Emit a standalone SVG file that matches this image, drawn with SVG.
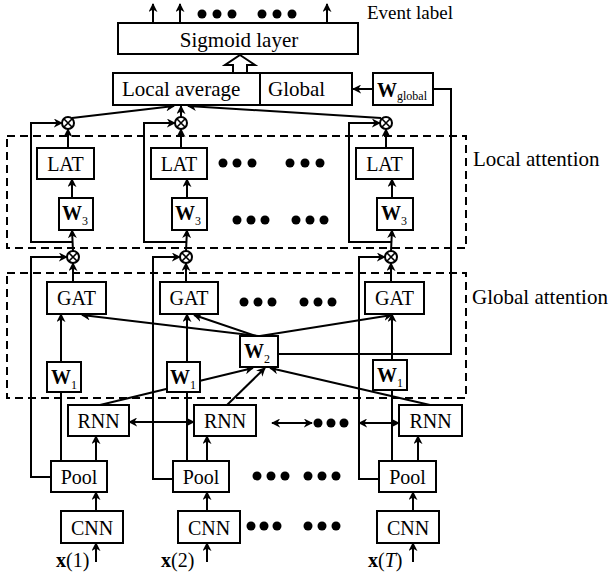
<svg xmlns="http://www.w3.org/2000/svg" width="609" height="575" viewBox="0 0 609 575">
<style>
.box{fill:#fff;stroke:#000;stroke-width:2}
.ln{fill:none;stroke:#000;stroke-width:2}
.ar{marker-end:url(#ah)}
.da{fill:none;stroke:#000;stroke-width:2;stroke-dasharray:8 5}
.dot{fill:#000}
text{font-family:"Liberation Serif","Times New Roman",serif;font-size:20px;fill:#000}
.c{text-anchor:middle}
.b{font-weight:bold}
.s{font-size:12px}
.L{font-size:21px}
.ot circle{fill:#fff;stroke:#000;stroke-width:2}
.ot path{stroke:#000;stroke-width:1.6}
</style>
<defs>
<marker id="ah" viewBox="0 0 10 10" refX="9" refY="5" markerWidth="9" markerHeight="9" markerUnits="userSpaceOnUse" orient="auto-start-reverse"><path d="M0,0 L10,5 L0,10 L3,5 z"/></marker>
<g id="otimes" class="ot"><circle r="6"/><path d="M-4.2,-4.2 L4.2,4.2 M-4.2,4.2 L4.2,-4.2"/></g>
</defs>

<g id="regions">
<rect class="da" x="7" y="136" width="459" height="112"/>
<rect class="da" x="7" y="273" width="459" height="125"/>
<text class="L" x="473" y="166">Local attention</text>
<text class="L" x="472" y="304">Global attention</text>
</g>

<g id="connectors">
<!-- outputs -->
<line class="ln ar" x1="153" y1="23" x2="153" y2="4"/>
<line class="ln ar" x1="180" y1="23" x2="180" y2="4"/>
<line class="ln ar" x1="327" y1="23" x2="327" y2="4"/>
<!-- into local average -->
<line class="ln ar" x1="72" y1="118" x2="174" y2="106"/>
<line class="ln ar" x1="181" y1="117" x2="181" y2="106"/>
<line class="ln ar" x1="381" y1="118" x2="188" y2="106"/>
<!-- W_global -->
<line class="ln ar" x1="373" y1="89" x2="353" y2="89"/>
<path class="ln" d="M278,354 H451 V89 H433"/>
<!-- column 1 local -->
<line class="ln ar" x1="68" y1="148" x2="68" y2="129"/>
<line class="ln ar" x1="72" y1="198" x2="72" y2="179"/>
<line class="ln ar" x1="73" y1="251" x2="72" y2="230"/>
<path class="ln ar" d="M72,242 H31 V123 H62"/>
<!-- column 2 local -->
<line class="ln ar" x1="181" y1="148" x2="181" y2="129"/>
<line class="ln ar" x1="187" y1="198" x2="187" y2="179"/>
<line class="ln ar" x1="186" y1="251" x2="187" y2="230"/>
<path class="ln ar" d="M187,242 H144 V123 H175"/>
<!-- column 3 local -->
<line class="ln ar" x1="386" y1="148" x2="386" y2="129"/>
<line class="ln ar" x1="392" y1="198" x2="392" y2="179"/>
<line class="ln ar" x1="391" y1="251" x2="392" y2="230"/>
<path class="ln ar" d="M392,242 H349 V123 H380"/>
<!-- column 1 global/bottom -->
<line class="ln ar" x1="73" y1="282" x2="73" y2="263"/>
<path class="ln ar" d="M51,477 H31 V257 H67"/>
<line class="ln ar" x1="61" y1="362" x2="61" y2="314"/>
<line class="ln" x1="61" y1="461" x2="61" y2="392"/>
<line class="ln ar" x1="96" y1="511" x2="96" y2="492"/>
<line class="ln ar" x1="96" y1="461" x2="96" y2="436"/>
<line class="ln ar" x1="96" y1="562" x2="96" y2="543"/>
<!-- column 2 global/bottom -->
<line class="ln ar" x1="186" y1="282" x2="186" y2="263"/>
<path class="ln ar" d="M173,479 H153 V257 H180"/>
<line class="ln ar" x1="187" y1="362" x2="187" y2="314"/>
<line class="ln" x1="187" y1="461" x2="187" y2="392"/>
<line class="ln ar" x1="207" y1="511" x2="207" y2="492"/>
<line class="ln ar" x1="207" y1="461" x2="207" y2="436"/>
<line class="ln ar" x1="207" y1="562" x2="207" y2="543"/>
<!-- column 3 global/bottom -->
<line class="ln ar" x1="391" y1="282" x2="391" y2="263"/>
<path class="ln ar" d="M379,479 H359 V257 H385"/>
<line class="ln ar" x1="392" y1="360" x2="392" y2="314"/>
<line class="ln" x1="392" y1="461" x2="392" y2="390"/>
<line class="ln ar" x1="413" y1="511" x2="413" y2="492"/>
<line class="ln ar" x1="418" y1="461" x2="418" y2="436"/>
<line class="ln ar" x1="413" y1="562" x2="413" y2="543"/>
<!-- W2 links -->
<line class="ln ar" x1="258" y1="336" x2="82" y2="315"/>
<line class="ln ar" x1="256" y1="336" x2="194" y2="315"/>
<line class="ln ar" x1="260" y1="336" x2="392" y2="315"/>
<line class="ln ar" x1="100" y1="405" x2="253" y2="368"/>
<line class="ln ar" x1="227" y1="405" x2="265" y2="368"/>
<line class="ln ar" x1="430" y1="405" x2="270" y2="368"/>
<!-- RNN recurrences -->
<line class="ln ar" x1="129" y1="422" x2="194" y2="422" style="marker-start:url(#ah)"/>
<line class="ln ar" x1="272" y1="423" x2="312" y2="423" style="marker-start:url(#ah)"/>
<line class="ln ar" x1="359" y1="423" x2="399" y2="423" style="marker-start:url(#ah)"/>
</g>

<g id="dots">
<circle class="dot" cx="202" cy="14" r="4.5"/><circle class="dot" cx="217" cy="14" r="4.5"/><circle class="dot" cx="232" cy="14" r="4.5"/>
<circle class="dot" cx="262" cy="14" r="4.5"/><circle class="dot" cx="277" cy="14" r="4.5"/><circle class="dot" cx="292" cy="14" r="4.5"/>
<circle class="dot" cx="223" cy="163" r="4.5"/><circle class="dot" cx="237" cy="163" r="4.5"/><circle class="dot" cx="252" cy="163" r="4.5"/>
<circle class="dot" cx="290" cy="163" r="4.5"/><circle class="dot" cx="305" cy="163" r="4.5"/><circle class="dot" cx="320" cy="163" r="4.5"/>
<circle class="dot" cx="237" cy="220" r="4.5"/><circle class="dot" cx="251" cy="220" r="4.5"/><circle class="dot" cx="265" cy="220" r="4.5"/>
<circle class="dot" cx="296" cy="220" r="4.5"/><circle class="dot" cx="310" cy="220" r="4.5"/><circle class="dot" cx="324" cy="220" r="4.5"/>
<circle class="dot" cx="244" cy="302" r="4.5"/><circle class="dot" cx="258" cy="302" r="4.5"/><circle class="dot" cx="272" cy="302" r="4.5"/>
<circle class="dot" cx="304" cy="302" r="4.5"/><circle class="dot" cx="318" cy="302" r="4.5"/><circle class="dot" cx="332" cy="302" r="4.5"/>
<circle class="dot" cx="318" cy="423" r="4.5"/><circle class="dot" cx="331" cy="423" r="4.5"/><circle class="dot" cx="344" cy="423" r="4.5"/>
<circle class="dot" cx="257" cy="476" r="4.5"/><circle class="dot" cx="271" cy="476" r="4.5"/><circle class="dot" cx="285" cy="476" r="4.5"/>
<circle class="dot" cx="308" cy="476" r="4.5"/><circle class="dot" cx="322" cy="476" r="4.5"/><circle class="dot" cx="336" cy="476" r="4.5"/>
<circle class="dot" cx="251" cy="526" r="4.5"/><circle class="dot" cx="264" cy="526" r="4.5"/><circle class="dot" cx="277" cy="526" r="4.5"/>
<circle class="dot" cx="308" cy="526" r="4.5"/><circle class="dot" cx="322" cy="526" r="4.5"/><circle class="dot" cx="336" cy="526" r="4.5"/>
</g>

<g id="sigmoid"><rect class="box" x="118" y="23" width="240" height="31"/><text class="c L" x="239" y="47">Sigmoid layer</text></g>
<text id="event-label" x="367" y="19" style="font-size:19px">Event label</text>
<g id="hollow-arrow"><polygon class="box" points="240,55 255,65 247,65 247,73 233,73 233,65 225,65"/></g>
<g id="local-average"><rect class="box" x="113" y="73" width="147" height="32"/><text class="L" x="122" y="96">Local average</text></g>
<g id="global"><rect class="box" x="260" y="73" width="92" height="32"/><text class="L" x="268" y="96">Global</text></g>
<g id="w-global"><rect class="box" x="373" y="73" width="60" height="32"/><text class="b" x="377" y="97">W</text><text class="s" x="397" y="100">global</text></g>

<g id="mul-local-1"><use href="#otimes" x="68" y="123"/></g>
<g id="mul-local-2"><use href="#otimes" x="181" y="123"/></g>
<g id="mul-local-3"><use href="#otimes" x="386" y="123"/></g>
<g id="mul-global-1"><use href="#otimes" x="73" y="257"/></g>
<g id="mul-global-2"><use href="#otimes" x="186" y="257"/></g>
<g id="mul-global-3"><use href="#otimes" x="391" y="257"/></g>

<g id="lat-1"><rect class="box" x="37" y="148" width="57" height="31"/><text class="c" x="65.5" y="171">LAT</text></g>
<g id="lat-2"><rect class="box" x="151" y="148" width="56" height="31"/><text class="c" x="179" y="171">LAT</text></g>
<g id="lat-3"><rect class="box" x="356" y="148" width="57" height="31"/><text class="c" x="384.5" y="171">LAT</text></g>

<g id="w3-1"><rect class="box" x="59" y="198" width="34" height="32"/><text class="b" x="62" y="220">W</text><text class="s" x="82" y="225">3</text></g>
<g id="w3-2"><rect class="box" x="172" y="198" width="35" height="32"/><text class="b" x="175" y="220">W</text><text class="s" x="195" y="225">3</text></g>
<g id="w3-3"><rect class="box" x="377" y="198" width="36" height="32"/><text class="b" x="381" y="220">W</text><text class="s" x="401" y="225">3</text></g>

<g id="gat-1"><rect class="box" x="47" y="282" width="59" height="32"/><text class="c" x="76.5" y="305">GAT</text></g>
<g id="gat-2"><rect class="box" x="160" y="282" width="58" height="32"/><text class="c" x="189" y="305">GAT</text></g>
<g id="gat-3"><rect class="box" x="365" y="282" width="59" height="32"/><text class="c" x="394.5" y="305">GAT</text></g>

<g id="w2"><rect class="box" x="240" y="336" width="38" height="31"/><text class="b" x="244" y="358">W</text><text class="s" x="264" y="363">2</text></g>

<g id="w1-1"><rect class="box" x="47" y="362" width="34" height="30"/><text class="b" x="51" y="384">W</text><text class="s" x="71" y="389">1</text></g>
<g id="w1-2"><rect class="box" x="167" y="362" width="33" height="30"/><text class="b" x="170" y="384">W</text><text class="s" x="190" y="389">1</text></g>
<g id="w1-3"><rect class="box" x="373" y="360" width="34" height="30"/><text class="b" x="377" y="382">W</text><text class="s" x="397" y="387">1</text></g>

<g id="rnn-1"><rect class="box" x="68" y="405" width="61" height="31"/><text class="c" x="98.5" y="428">RNN</text></g>
<g id="rnn-2"><rect class="box" x="194" y="405" width="62" height="31"/><text class="c" x="225" y="428">RNN</text></g>
<g id="rnn-3"><rect class="box" x="399" y="405" width="63" height="31"/><text class="c" x="430.5" y="428">RNN</text></g>

<g id="pool-1"><rect class="box" x="51" y="461" width="56" height="31"/><text class="c" x="79" y="484">Pool</text></g>
<g id="pool-2"><rect class="box" x="173" y="461" width="56" height="31"/><text class="c" x="201" y="484">Pool</text></g>
<g id="pool-3"><rect class="box" x="379" y="461" width="57" height="31"/><text class="c" x="407.5" y="484">Pool</text></g>

<g id="cnn-1"><rect class="box" x="61" y="511" width="62" height="32"/><text class="c" x="92" y="535">CNN</text></g>
<g id="cnn-2"><rect class="box" x="178" y="511" width="62" height="32"/><text class="c" x="209" y="535">CNN</text></g>
<g id="cnn-3"><rect class="box" x="377" y="511" width="62" height="32"/><text class="c" x="408" y="535">CNN</text></g>

<g id="input-1"><text x="56" y="567"><tspan class="b">x</tspan>(1)</text></g>
<g id="input-2"><text x="161" y="567"><tspan class="b">x</tspan>(2)</text></g>
<g id="input-T"><text x="368" y="567"><tspan class="b">x</tspan>(<tspan font-style="italic">T</tspan>)</text></g>
</svg>
